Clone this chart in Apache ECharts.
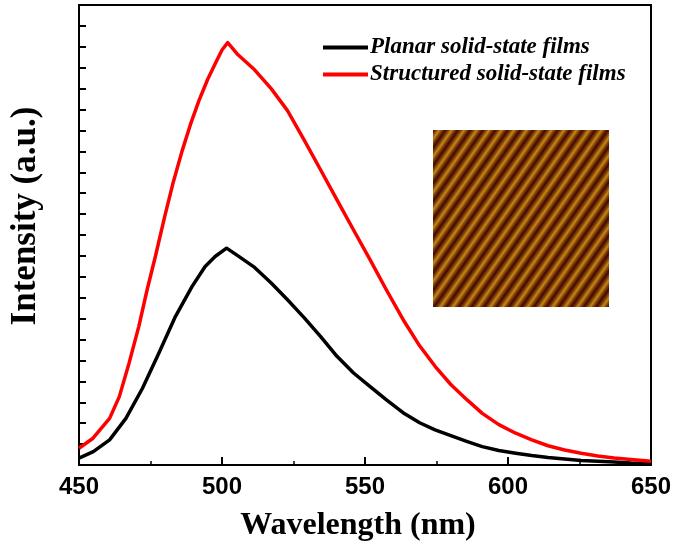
<!DOCTYPE html>
<html>
<head>
<meta charset="utf-8">
<script src="https://cdn.jsdelivr.net/npm/echarts@6/dist/echarts.min.js"></script>
<style>html,body{margin:0;padding:0;background:#fff}#c{width:675px;height:553px}</style>
</head>
<body>
<div id="c"></div>
<script>
// Wavelength (nm), intensity (a.u.)
const planarWl = [450,455,460.7,466.4,472.2,477.9,483.7,489.5,494.1,497.6,501.6,505.6,511.4,517.2,522.9,528.7,534.5,540.2,546,551.8,557.5,563.3,569.1,574.5,580,585.8,591,596.8,602.7,608.3,614,619.8,625.6,631.4,637.1,643,650];
const planarVal = [0.33,0.64,1.2,2.23,3.67,5.34,7.1,8.53,9.49,9.97,10.37,10.0,9.45,8.7,7.9,7.05,6.14,5.2,4.4,3.75,3.11,2.5,2.02,1.68,1.4,1.12,0.88,0.69,0.56,0.45,0.36,0.29,0.22,0.18,0.14,0.1,0.08];
const structWl = [450,454.9,460.7,464.1,467.5,470.9,473.8,476.7,480,483,486,489,492,495,498,500,502,505.6,511.4,517.2,522.9,528.7,534.5,540.2,546,551.8,557.5,563.3,569.1,574.5,580,585.8,591,596.8,602.7,608.3,614,619.8,625.6,631.4,637.1,643,650];
const structVal = [0.8,1.28,2.23,3.27,4.87,6.62,8.37,9.97,11.9,13.55,15.0,16.3,17.45,18.45,19.3,19.85,20.2,19.62,18.9,18.0,16.95,15.55,14.11,12.68,11.24,9.81,8.37,6.96,5.7,4.72,3.85,3.1,2.47,1.93,1.52,1.2,0.92,0.72,0.56,0.43,0.33,0.26,0.18];
const seriesNames = ['Planar solid-state films','Structured solid-state films'];
const xTicks = [450,500,550,600,650];

const zip = (a,b) => a.map((v,i)=>[v,b[i]]);

// stripes for the inset (AFM image)
const stops = [];
const periods = 24;
const cols = ['#400a00','#7e3c06','#c48816','#7e3c06'];
for (let p=0;p<periods;p++){
  for (let k=0;k<4;k++){
    stops.push({offset:(p+k/4)/periods, color:cols[k]});
  }
}
stops.push({offset:1,color:cols[0]});

const chart = echarts.init(document.getElementById('c'), null, {renderer:'canvas'});
chart.setOption({
  animation:false,
  backgroundColor:'#fff',
  grid:{left:73,right:24,top:5,bottom:88,show:true,borderColor:'#000',borderWidth:2,backgroundColor:'transparent'},
  legend:{
    orient:'vertical', left:318, top:31, itemWidth:45, itemHeight:4, itemGap:4, icon:'rect',
    textStyle:{fontFamily:'Liberation Serif',fontStyle:'italic',fontWeight:'bold',fontSize:23,color:'#000',padding:[0,0,0,-3]},
    data:seriesNames
  },
  xAxis:{
    type:'value', min:450, max:650, interval:50,
    name:'Wavelength (nm)', nameLocation:'middle', nameGap:45,
    nameTextStyle:{fontFamily:'Liberation Serif',fontWeight:'bold',fontSize:32,color:'#000',padding:[0,14,0,0]},
    axisLine:{show:true,lineStyle:{color:'#000',width:2}},
    axisTick:{show:true,inside:true,length:8,lineStyle:{color:'#000',width:2}},
    minorTick:{show:true,splitNumber:2,length:4,lineStyle:{color:'#000',width:1.5}},
    splitLine:{show:false},
    axisLabel:{fontFamily:'Liberation Sans',fontWeight:'bold',fontSize:24,color:'#000',margin:10,
      formatter:v=>xTicks.includes(v)?String(v):''}
  },
  yAxis:{
    type:'value', min:0, max:22, interval:1,
    name:'Intensity (a.u.)', nameLocation:'middle', nameGap:36,
    nameTextStyle:{fontFamily:'Liberation Serif',fontWeight:'bold',fontSize:35,color:'#000',padding:[0,0,0,38]},
    axisLine:{show:true,lineStyle:{color:'#000',width:2}},
    axisTick:{show:true,inside:true,length:7,lineStyle:{color:'#000',width:2}},
    splitLine:{show:false},
    axisLabel:{show:false}
  },
  series:[
    {name:seriesNames[0],type:'line',data:zip(planarWl,planarVal),showSymbol:false,smooth:false,
      lineStyle:{color:'#000',width:3.5,join:'round'},itemStyle:{color:'#000'},z:3},
    {name:seriesNames[1],type:'line',data:zip(structWl,structVal),showSymbol:false,smooth:false,
      lineStyle:{color:'#ff0000',width:3.5,join:'round'},itemStyle:{color:'#ff0000'},z:4}
  ],
  graphic:[
    {type:'rect',left:433,top:130,shape:{width:176,height:177},z:10,
      style:{fill:{type:'linear',x:0,y:0,x2:1.143,y2:0.795,colorStops:stops,global:false}}}
  ]
});
</script>
</body>
</html>
